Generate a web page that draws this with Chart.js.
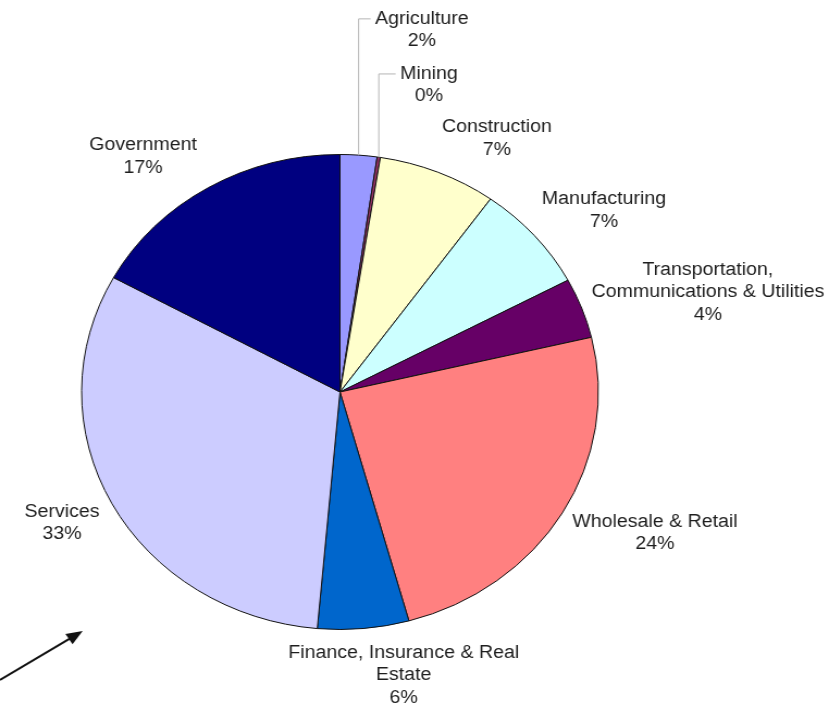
<!DOCTYPE html>
<html>
<head>
<meta charset="utf-8">
<script src="https://cdn.jsdelivr.net/npm/chart.js@4/dist/chart.umd.min.js"></script>
<style>
  body { margin: 0; background: #fff; }
</style>
</head>
<body>
<!-- canvas drawn at 762 wide then stretched to 829, the original picture is squashed the same way -->
<canvas id="pie" width="762" height="712" style="width:829px;height:712px"></canvas>
<script>
const sectors = [
  ['Agriculture'],
  ['Mining'],
  ['Construction'],
  ['Manufacturing'],
  ['Transportation,', 'Communications & Utilities'],
  ['Wholesale & Retail'],
  ['Finance, Insurance & Real', 'Estate'],
  ['Services'],
  ['Government']
];
const shares = [2.3, 0.2, 7.4, 7.3, 4.1, 24.4, 5.7, 31.6, 17.0];
const pctText = ['2%', '0%', '7%', '7%', '4%', '24%', '6%', '33%', '17%'];
const colors = ['#9999FF', '#993366', '#FFFFCC', '#CCFFFF', '#660066', '#FF8080', '#0066CC', '#CCCCFF', '#000080'];

// label nudges from the middle of each slice's rim, and which ones get a leader line
const labelShift = [[58, -125], [46, -72], [54, -34], [64, -25], [116, -16], [85, 20], [37, 47], [-46, 19], [-60, -31]];
const leader = [true, true, false, false, false, false, false, false, false];

const labelPlugin = {
  id: 'sliceLabels',
  afterDatasetsDraw(chart) {
    const ctx = chart.ctx;
    const arcs = chart.getDatasetMeta(0).data;
    ctx.save();
    ctx.font = '18px "Liberation Sans", Arial, sans-serif';
    ctx.fillStyle = '#1e1e1e';
    ctx.textAlign = 'center';
    ctx.textBaseline = 'middle';
    const lh = 22.5;
    arcs.forEach((arc, i) => {
      const p = arc.getProps(['x', 'y', 'startAngle', 'endAngle', 'outerRadius'], true);
      const mid = (p.startAngle + p.endAngle) / 2;
      const px = p.x + Math.cos(mid) * p.outerRadius;
      const py = p.y + Math.sin(mid) * p.outerRadius;
      const cx = px + labelShift[i][0];
      const cy = py + labelShift[i][1];
      const lines = sectors[i].concat([pctText[i]]);
      const top = cy - (lines.length - 1) * lh / 2;
      lines.forEach((t, k) => ctx.fillText(t, cx, top + k * lh));
      if (leader[i]) {
        const w = Math.max(...lines.map(t => ctx.measureText(t).width));
        ctx.strokeStyle = '#b4b4b4';
        ctx.lineWidth = 1;
        ctx.beginPath();
        ctx.moveTo(px, py);
        ctx.lineTo(px, top);
        ctx.lineTo(cx - w / 2 - 4, top);
        ctx.stroke();
      }
    });
    ctx.restore();
  }
};

// the pointer arrow in the lower left corner
const arrowPlugin = {
  id: 'arrow',
  afterDraw(chart) {
    const ctx = chart.ctx;
    const x0 = 0, y0 = 680, x1 = 76, y1 = 631;
    const ang = Math.atan2(y1 - y0, x1 - x0);
    ctx.save();
    ctx.strokeStyle = '#111';
    ctx.fillStyle = '#111';
    ctx.lineWidth = 2;
    ctx.beginPath();
    ctx.moveTo(x0, y0);
    ctx.lineTo(x1 - 10 * Math.cos(ang), y1 - 10 * Math.sin(ang));
    ctx.stroke();
    ctx.beginPath();
    ctx.moveTo(x1, y1);
    ctx.lineTo(x1 - 15 * Math.cos(ang) + 6 * Math.sin(ang), y1 - 15 * Math.sin(ang) - 6 * Math.cos(ang));
    ctx.lineTo(x1 - 15 * Math.cos(ang) - 6 * Math.sin(ang), y1 - 15 * Math.sin(ang) + 6 * Math.cos(ang));
    ctx.closePath();
    ctx.fill();
    ctx.restore();
  }
};

new Chart(document.getElementById('pie'), {
  type: 'pie',
  data: {
    labels: sectors.map(s => s.join(' ')),
    datasets: [{
      data: shares,
      backgroundColor: colors,
      borderColor: '#111',
      borderWidth: 1
    }]
  },
  options: {
    responsive: false,
    animation: false,
    layout: { padding: { left: 74.5, right: 211.5, top: 154, bottom: 82 } },
    plugins: {
      legend: { display: false },
      tooltip: { enabled: false }
    }
  },
  plugins: [labelPlugin, arrowPlugin]
});
</script>
</body>
</html>
